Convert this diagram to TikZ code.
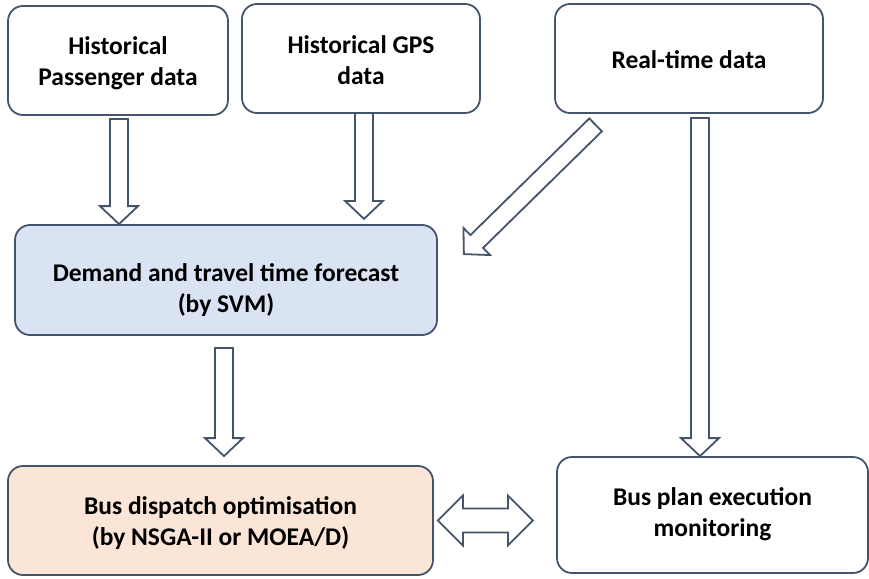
\documentclass[tikz,border=0pt]{standalone}
\usepackage{fontspec}
\setmainfont{Carlito}
\usetikzlibrary{calc}
\definecolor{edge}{HTML}{44546A}
\definecolor{blueFill}{HTML}{DAE3F3}
\definecolor{peachFill}{HTML}{FBE5D6}
\tikzset{
  boxstyle/.style={draw=edge, line width=1.8pt, rounded corners=15pt, fill=white,
    inner sep=0pt, align=center, font=\fontsize{25.5}{31}\selectfont\bfseries},
  barrow/.style={draw=edge, line width=1.8pt, fill=white, line join=miter}
}
% first-line strut of given height (pushes text down by half the extra)
\newcommand\topstrut[1]{\rule{0pt}{#1}}
% #1 tail, #2 tip, #3 name of head-base coordinate
\newcommand\blockarrow[3]{%
  \coordinate (#3) at ($(#2)!18pt!(#1)$);
  \draw[barrow] ($(#1)!9pt!90:(#2)$) -- ($(#3)!9pt!-90:(#1)$) -- ($(#3)!19pt!-90:(#1)$)
    -- (#2) -- ($(#3)!19pt!90:(#1)$) -- ($(#3)!9pt!90:(#1)$) -- ($(#1)!9pt!-90:(#2)$) -- cycle;
}
\begin{document}
\begin{tikzpicture}[x=1pt,y=-1pt]
\useasboundingbox (0,0) rectangle (869,578);
% boxes
\node[boxstyle, minimum width=220pt, minimum height=109pt] (hp) at (118,60.5)
  {\topstrut{27.7pt}Historical\strut\\Passenger data\strut};
\node[boxstyle, minimum width=238pt, minimum height=109pt] (gps) at (361,58.5)
  {\topstrut{29.7pt}Historical GPS\strut\\data\strut};
\node[boxstyle, minimum width=268pt, minimum height=109pt] (rt) at (689,58.5)
  {\topstrut{28.3pt}Real-time data\strut};
\node[boxstyle, fill=blueFill, minimum width=422pt, minimum height=110pt] (dem) at (226,280)
  {\topstrut{43.7pt}Demand and travel time forecast\strut\\(by SVM)\strut};
\node[boxstyle, fill=peachFill, minimum width=425pt, minimum height=109pt] (bd) at (220.5,520.5)
  {\topstrut{27.7pt}Bus dispatch optimisation\strut\\(by NSGA-II or MOEA/D)\strut};
\node[boxstyle, minimum width=311pt, minimum height=116pt] (bp) at (712.5,515)
  {Bus plan execution\strut\\monitoring\strut};
% connector end points
\coordinate (a1s) at ($(hp.south)+(1,3)$);
\coordinate (a1e) at (a1s |- dem.north);
\coordinate (a2s) at ($(gps.south)+(3,-1)$);
\coordinate (a2e) at ($(gps.south)+(3,105)$);
\coordinate (a3s) at ($(rt.south west)+(41.5,11)$);
\coordinate (a3e) at ($(dem.north east)+(26,30)$);
\coordinate (a4s) at ($(rt.south)+(11,4)$);
\coordinate (a4e) at (a4s |- bp.north);
\coordinate (a5s) at ($(dem.south)+(-2,12)$);
\coordinate (a5e) at ($(a5s |- bd.north)+(0,-9)$);
% block arrows
\blockarrow{a1s}{a1e}{h1}
\blockarrow{a2s}{a2e}{h2}
\blockarrow{a3s}{a3e}{h3}
\blockarrow{a4s}{a4e}{h4}
\blockarrow{a5s}{a5e}{h5}
% double arrow
\coordinate (dl) at ($(bd.east)+(4,0)$);
\coordinate (dr) at ($(dl)+(95,0)$);
\draw[barrow] (dl) -- ($(dl)+(25,-25)$) -- ($(dl)+(25,-12)$) -- ($(dr)+(-25,-12)$) -- ($(dr)+(-25,-25)$)
  -- (dr) -- ($(dr)+(-25,25)$) -- ($(dr)+(-25,12)$) -- ($(dl)+(25,12)$) -- ($(dl)+(25,25)$) -- cycle;
\end{tikzpicture}
\end{document}
